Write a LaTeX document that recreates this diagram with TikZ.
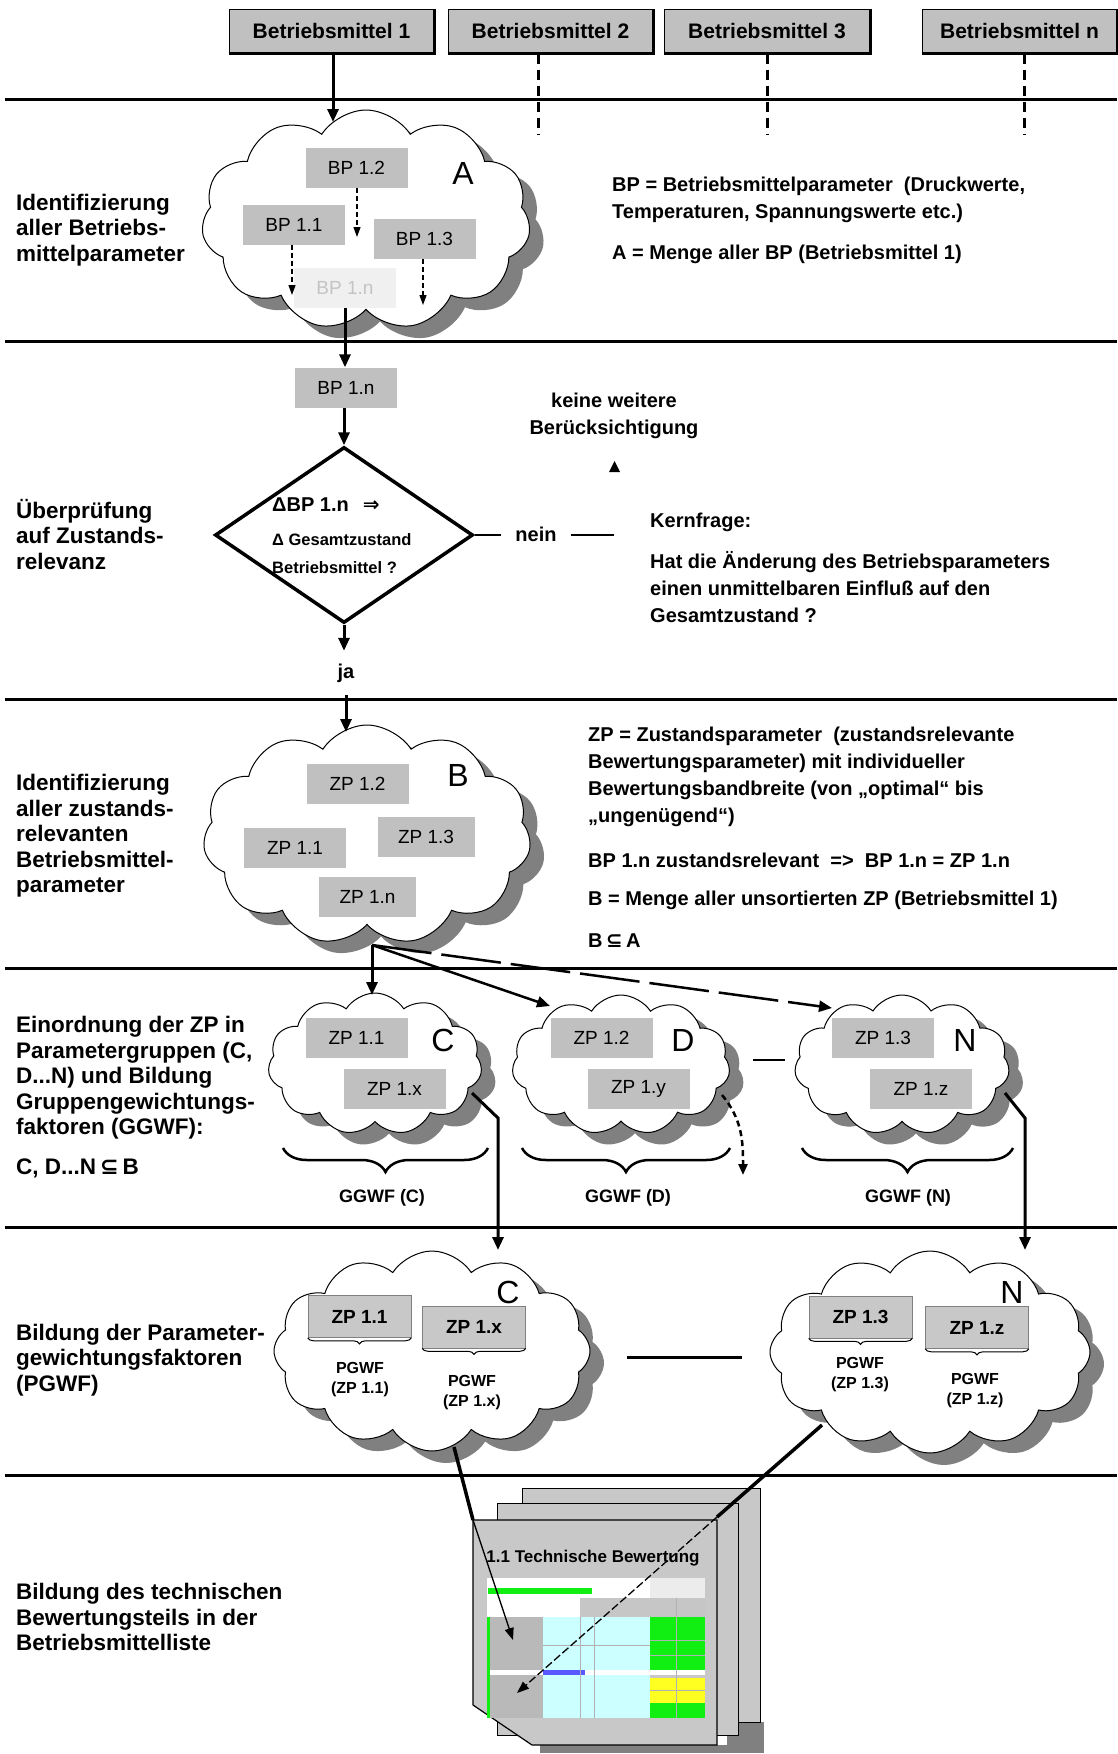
\documentclass[tikz,border=0pt]{standalone}
\usepackage{fontspec}
\setmainfont{Liberation Sans}
\newfontfamily\djv{DejaVu Sans}
\usetikzlibrary{arrows.meta,shapes.geometric,shapes.symbols,decorations.pathreplacing,shadows}
\definecolor{boxgray}{HTML}{C0C0C0}
\definecolor{shadowgray}{HTML}{808080}
\definecolor{fadefill}{HTML}{F0F0F0}
\definecolor{fadetext}{HTML}{C4C4C4}
\definecolor{docgray}{HTML}{C8C8C8}
\definecolor{cyanl}{HTML}{CCFFFF}
\definecolor{xlgreen}{HTML}{11EE11}
\definecolor{xlyellow}{HTML}{FFFF22}
\newcommand\LblF{\fontsize{22.5}{25.5}\selectfont\bfseries}
\newcommand\RtF{\fontsize{20}{27}\selectfont\bfseries}
\newcommand\BoxF{\fontsize{19}{22}\selectfont}
\newcommand\TopF{\fontsize{21}{24}\selectfont\bfseries}
\newcommand\LetF{\fontsize{32}{36}\selectfont}
\newcommand\GgF{\fontsize{18}{21}\selectfont\bfseries}
\newcommand\PgF{\fontsize{16}{20}\selectfont\bfseries}
\newcommand\DiaA{\fontsize{20}{23}\selectfont\bfseries}
\newcommand\DiaB{\fontsize{16.5}{20}\selectfont\bfseries}
\begin{document}
\begin{tikzpicture}[x=1pt,y=-1pt,
  sepline/.style={line width=3pt},
  arr/.style={line width=3pt,-{Triangle[length=13pt,width=11pt]}},
  dasharr/.style={line width=1.2pt,dash pattern=on 5pt off 3pt,-{Triangle[length=10pt,width=7pt]}},
  vdash/.style={line width=3pt,dash pattern=on 10pt off 6pt},
  topbox/.style={fill=boxgray,draw=black,line width=1pt,minimum width=205pt,minimum height=44pt,inner sep=0pt,font=\TopF},
  bpbox/.style={fill=boxgray,minimum width=102pt,minimum height=40pt,inner sep=0pt,font=\BoxF},
  pbox/.style={fill=docgray,draw=gray,line width=0.6pt,minimum width=103pt,minimum height=42pt,inner sep=0pt,font=\BoxF\bfseries},
  cloudnode/.style={cloud,cloud puffs=11,cloud puff arc=115,cloud ignores aspect,draw=black,line width=1pt,fill=white,inner sep=0pt,
     drop shadow={shadow xshift=14pt,shadow yshift=-12pt,fill=shadowgray,opacity=1}},
  letter/.style={font=\LetF,inner sep=0pt},
  lbl/.style={anchor=west,align=left,inner sep=0pt,font=\LblF},
  rtxt/.style={anchor=west,align=left,inner sep=0pt,font=\RtF},
  ggwf/.style={font=\GgF,inner sep=0pt},
  pgwf/.style={font=\PgF,align=center,inner sep=0pt},
  bigbrace/.style={line width=2.5pt,decorate,decoration={brace,mirror,amplitude=24pt}},
  smallbrace/.style={line width=1pt,decorate,decoration={brace,mirror,amplitude=6pt}}]

\fill[white] (0,0) rectangle (1117,1754);
\useasboundingbox (0,0) rectangle (1117,1754);

% ---------- top boxes ----------
\node[topbox] (b1) at (331.5,31) {Betriebsmittel 1};
\node[topbox] (b2) at (550.5,31) {Betriebsmittel 2};
\node[topbox] (b3) at (767,31) {Betriebsmittel 3};
\node[topbox,minimum width=195pt] (bn) at (1019.5,31) {Betriebsmittel n};
\foreach \b in {b1,b2,b3,bn} \draw[line width=3pt] (\b.south west) -- (\b.south east) -- (\b.north east);

\coordinate (aTop) at (333,122);
\draw[arr] (b1.south -| aTop) -- (aTop);
\coordinate (d2) at (538,135);
\coordinate (d3) at (767,135);
\coordinate (dn) at (1024,135);
\draw[vdash] (b2.south -| d2) -- (d2);
\draw[vdash] (b3.south -| d3) -- (d3);
\draw[vdash] (bn.south -| dn) -- (dn);

% ---------- cloud A ----------
\node[cloudnode,minimum width=329pt,minimum height=220pt] (cA) at (366,220) {};
\node[bpbox] (bp12) at (356.5,168) {BP 1.2};
\node[bpbox] (bp11) at (294,224.5) {BP 1.1};
\node[bpbox] (bp13) at (424.5,239) {BP 1.3};
\node[bpbox,fill=fadefill,text=fadetext] (bp1nA) at (345,288) {BP 1.n};
\node[letter] (lA) at (463,173) {A};
\coordinate (e12) at (357,237);
\coordinate (e11) at (292,295);
\coordinate (e13) at (423,305);
\draw[dasharr] (bp12.south -| e12) -- (e12);
\draw[dasharr] (bp11.south -| e11) -- (e11);
\draw[dasharr] (bp13.south -| e13) -- (e13);

\node[rtxt] (bpdef) at (612,199.5) {BP = Betriebsmittelparameter\ \ (Druckwerte,\\Temperaturen, Spannungswerte etc.)};
\node[rtxt] (adef) at (612,254) {A = Menge aller BP (Betriebsmittel 1)};

% ---------- check ----------
\node[bpbox] (bp1nB) at (346,387.5) {BP 1.n};
\draw[arr] (bp1nA.south) -- (bp1nA.south |- bp1nB.north);
\node[diamond,draw=black,line width=3.5pt,minimum width=258pt,minimum height=176pt,inner sep=0pt] (dia) at (344,535) {};
\draw[arr] (bp1nB.south -| dia.north) -- (dia.north);
\node[anchor=west,inner sep=0pt,font=\DiaA] (dt1) at (272,505) {ΔBP 1.n\hspace{14pt}{\djv\bfseries ⇒}};
\node[anchor=west,inner sep=0pt,font=\DiaB] (dt2) at (272,540) {Δ Gesamtzustand};
\node[anchor=west,inner sep=0pt,font=\DiaB] (dt3) at (272,568) {Betriebsmittel ?};
\node[font=\RtF,inner ysep=0pt,minimum height=44pt] (ja) at (346,673) {ja};
\draw[arr] (dia.south) -- (dia.south |- ja.north);
\node[font=\RtF,inner xsep=14pt,inner ysep=0pt] (nein) at (536,534) {nein};
\coordinate (n3) at (614,535);
\draw[line width=2.5pt] (dia.east) -- (dia.east -| nein.west);
\draw[line width=2.5pt] (nein.east |- n3) -- (n3);
\node[font=\RtF,align=center,inner sep=0pt] (kw) at (614,416) {keine weitere\\Berücksichtigung};
\fill (609,472) -- (620,472) -- (614.5,461) -- cycle;
\node[rtxt] (kf) at (650,522) {Kernfrage:};
\node[rtxt] (kq) at (650,587.5) {Hat die Änderung des Betriebsparameters\\einen unmittelbaren Einfluß auf den\\Gesamtzustand ?};

% ---------- cloud B ----------
\node[cloudnode,minimum width=328pt,minimum height=220pt] (cB) at (367,835) {};
\node[bpbox] (zb12) at (357.5,784) {ZP 1.2};
\node[bpbox] (zb11) at (295,847.5) {ZP 1.1};
\node[bpbox,minimum width=97pt] (zb13) at (426,837) {ZP 1.3};
\node[bpbox,minimum width=97pt] (zb1n) at (367.5,897) {ZP 1.n};
\node[letter] (lB) at (458,775) {B};
\coordinate (bTop) at (345,732);
\draw[arr] (ja.south) -- (ja.south |- bTop);

\node[rtxt] (zpdef) at (588,777) {ZP = Zustandsparameter\ \ (zustandsrelevante\\Bewertungsparameter) mit individueller\\Bewertungsbandbreite (von „optimal“ bis\\„ungenügend“)};
\node[rtxt] (rel) at (588,860) {BP 1.n zustandsrelevant\ \ =>\ \ BP 1.n = ZP 1.n};
\node[rtxt] (bdef) at (588,900) {B = Menge aller unsortierten ZP (Betriebsmittel 1)};
\node[rtxt] (bsub) at (588,941) {B\,{\djv\bfseries ⊆}\,A};

% ---------- clouds C, D, N ----------
\node[cloudnode,minimum width=214pt,minimum height=142pt] (cC) at (375,1064) {};
\node[cloudnode,minimum width=218pt,minimum height=140pt] (cD) at (621,1065) {};
\node[cloudnode,minimum width=215pt,minimum height=140pt] (cN) at (902,1065) {};
\node[bpbox] (zc11) at (356.5,1037.5) {ZP 1.1};
\node[bpbox] (zc1x) at (394.5,1088.5) {ZP 1.x};
\node[bpbox] (zd12) at (601.5,1037.5) {ZP 1.2};
\node[bpbox] (zd1y) at (638.5,1088.5) {ZP 1.y};
\node[bpbox] (zn13) at (883,1037.5) {ZP 1.3};
\node[bpbox] (zn1z) at (921,1088.5) {ZP 1.z};
\node[letter] (lC) at (443,1040) {C};
\node[letter] (lD) at (683,1040) {D};
\node[letter] (lN) at (965,1040) {N};

\coordinate (bBot) at (372,945);
\coordinate (cTop) at (372,995);
\coordinate (dTop) at (550,1006);
\coordinate (nTop) at (832,1008);
\draw[arr] (bBot) -- (cTop);
\draw[arr,line width=2.5pt] (bBot) -- (dTop);
\draw[arr,line width=2.5pt,dash pattern=on 60pt off 10pt] (bBot) -- (nTop);

\coordinate (dOut) at (722,1095);
\coordinate (dEnd) at (743,1175);
\draw[line width=2.5pt,dash pattern=on 6pt off 4pt,-{Triangle[length=11pt,width=9pt]}] (dOut) to[out=-50,in=90] (dEnd);
\coordinate (dn1) at (753,1060);
\coordinate (dn2) at (785,1060);
\draw[line width=2.5pt] (dn1) -- (dn2);

\coordinate (brC1) at (283,1148); \coordinate (brC2) at (488,1148);
\coordinate (brD1) at (522,1148); \coordinate (brD2) at (730,1148);
\coordinate (brN1) at (802,1148); \coordinate (brN2) at (1013,1148);
\draw[bigbrace] (brC1) -- (brC2);
\draw[bigbrace] (brD1) -- (brD2);
\draw[bigbrace] (brN1) -- (brN2);
\node[ggwf] (gC) at (382,1198) {GGWF (C)};
\node[ggwf] (gD) at (628,1198) {GGWF (D)};
\node[ggwf] (gN) at (908,1198) {GGWF (N)};

% ---------- clouds C2, N2 ----------
\node[cloudnode,cloud puffs=12,minimum width=316pt,minimum height=200pt] (cC2) at (432,1351) {};
\node[cloudnode,cloud puffs=12,minimum width=320pt,minimum height=202pt] (cN2) at (930,1352) {};

\coordinate (cOut) at (472,1093);
\coordinate (cBend) at (498,1118);
\coordinate (c2Top) at (498,1250);
\draw[arr] (cOut) -- (cBend) -- (c2Top);
\coordinate (nOut) at (1005,1093);
\coordinate (nBend) at (1025,1118);
\coordinate (n2Top) at (1025,1250);
\draw[arr] (nOut) -- (nBend) -- (n2Top);

\node[pbox] (pc11) at (359.5,1316.5) {ZP 1.1};
\node[pbox] (pc1x) at (474,1327) {ZP 1.x};
\node[pbox] (pn13) at (860.5,1317) {ZP 1.3};
\node[pbox] (pn1z) at (977,1327.5) {ZP 1.z};
\foreach \z in {pc11,pc1x,pn13,pn1z} \draw[smallbrace] (\z.south west) -- (\z.south east);
\node[pgwf] (tc11) at (360,1380) {PGWF\\(ZP 1.1)};
\node[pgwf] (tc1x) at (472,1393) {PGWF\\(ZP 1.x)};
\node[pgwf] (tn13) at (860,1375) {PGWF\\(ZP 1.3)};
\node[pgwf] (tn1z) at (975,1391) {PGWF\\(ZP 1.z)};
\node[letter] (lC2) at (508,1292) {C};
\node[letter] (lN2) at (1012,1292) {N};
\coordinate (cn1) at (627,1357);
\coordinate (cn2) at (742,1357);
\draw[line width=3pt] (cn1) -- (cn2);

% ---------- document stack ----------
\fill[shadowgray] (727,1722) rectangle (764,1753);
\fill[shadowgray] (540,1745) rectangle (727,1753);
\filldraw[fill=docgray,draw=black,line width=0.8pt] (522,1488) rectangle (760,1722);
\filldraw[fill=docgray,draw=black,line width=0.8pt] (497,1503) rectangle (738,1735);
\filldraw[fill=docgray,draw=black,line width=1.2pt] (473,1520) -- (717,1520) -- (717,1745) -- (532,1745) -- (473,1705) -- cycle;
\fill[white] (487,1578) rectangle (650,1598);
\fill[gray!15] (650,1578) rectangle (705,1598);
\fill[xlgreen] (488,1588) rectangle (592,1594);
\fill[white] (487,1598) rectangle (580,1617);
\fill[gray!45] (580,1598) rectangle (705,1617);
\fill[gray!55] (487,1617) rectangle (543,1718);
\fill[cyanl] (543,1617) rectangle (650,1670);
\fill[xlgreen] (650,1617) rectangle (705,1670);
\fill[white] (487,1670) rectangle (705,1675);
\fill[blue!65] (543,1670) rectangle (585,1675);
\fill[cyanl] (543,1675) rectangle (650,1718);
\fill[xlyellow] (650,1678) rectangle (705,1703);
\fill[xlgreen] (650,1703) rectangle (705,1718);
\fill[xlgreen] (487,1617) rectangle (490,1718);
\draw[gray!60,line width=0.6pt] (580,1617) -- (580,1718) (594,1617) -- (594,1718) (676,1598) -- (676,1718)
  (543,1645) -- (650,1645) (650,1640) -- (705,1640) (650,1655) -- (705,1655) (650,1690) -- (705,1690);
\node[font=\fontsize{17}{20}\selectfont\bfseries,inner sep=0pt] (doctitle) at (593,1558) {1.1 Technische Bewertung};

\coordinate (c2Bot) at (454,1447);
\coordinate (docA) at (473,1520);
\coordinate (docTipA) at (513,1640);
\draw[line width=3.5pt] (c2Bot) -- (docA);
\draw[line width=1.3pt,-{Triangle[length=12pt,width=9pt]}] (docA) -- (docTipA);
\coordinate (n2Bot) at (822,1425);
\coordinate (docB) at (717,1517);
\coordinate (docTipB) at (517,1693);
\draw[line width=3.5pt] (n2Bot) -- (docB);
\draw[line width=1.3pt,dash pattern=on 8pt off 3pt,-{Triangle[length=12pt,width=9pt]}] (docB) -- (docTipB);

% ---------- left labels ----------
\node[lbl] (l1) at (16,230) {Identifizierung\\aller Betriebs-\\mittelparameter};
\node[lbl] (l2) at (16,534) {Überprüfung\\auf Zustands-\\relevanz};
\node[lbl] (l3) at (16,836) {Identifizierung\\aller zustands-\\relevanten\\Betriebsmittel-\\parameter};
\node[lbl] (l4) at (16,1078) {Einordnung der ZP in\\Parametergruppen (C,\\D...N) und Bildung\\Gruppengewichtungs-\\faktoren (GGWF):};
\node[lbl] (l4b) at (16,1168) {C, D...N\,{\djv\bfseries ⊆}\,B};
\node[lbl] (l5) at (16,1360) {Bildung der Parameter-\\gewichtungsfaktoren\\(PGWF)};
\node[lbl] (l6) at (16,1617) {Bildung des technischen\\Bewertungsteils in der\\Betriebsmittelliste};

% ---------- separators ----------
\foreach \yy in {99,341,699,968,1227,1475} \draw[sepline] (5,\yy) -- (1117,\yy);
\end{tikzpicture}
\end{document}
